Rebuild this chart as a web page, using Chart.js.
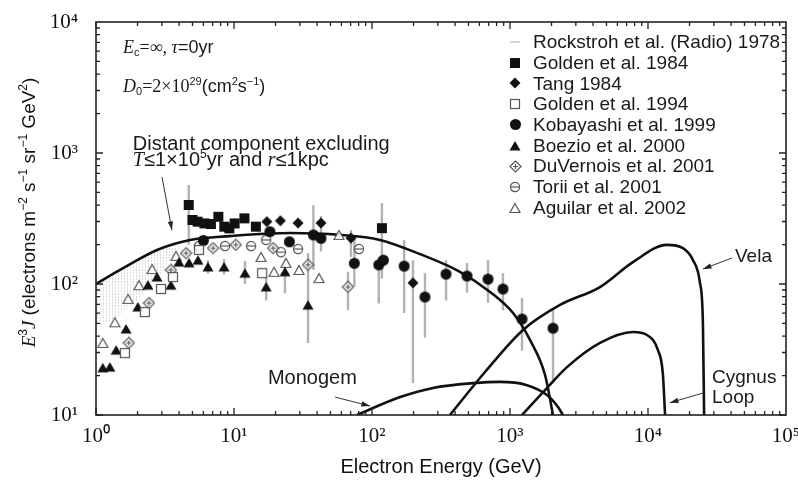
<!DOCTYPE html>
<html>
<head>
<meta charset="utf-8">
<title>Electron spectrum</title>
<script src="https://cdn.jsdelivr.net/npm/chart.js@4.4.1/dist/chart.umd.min.js"></script>
<style>
  body { margin: 0; background: #fff; }
  #wrap { width: 798px; height: 481px; }
</style>
</head>
<body>
<div id="wrap"><canvas id="chart" width="798" height="481"></canvas></div>
<script>
// axis ticks
const xTickValues = [1, 10, 100, 1000, 10000, 100000];
const xTickLabels = ["10⁰", "10¹", "10²", "10³", "10⁴", "10⁵"];
const yTickValues = [10, 100, 1000, 10000];
const yTickLabels = ["10¹", "10²", "10³", "10⁴"];

// model curves: energy (GeV) and E^3 J
const distantE = [1, 1.57, 2.77, 4.8, 9.3, 25.5, 58.6, 114, 223, 434, 717, 1052, 1396, 1795, 2050];
const distantF = [100, 132, 182, 217, 232, 245, 237, 217, 169, 124, 87, 60, 37.4, 20.2, 10];
const velaE = [367, 659, 1243, 2303, 4490, 7780, 13700, 17900, 21200, 23800, 25000, 25500];
const velaF = [10, 21.3, 44.6, 69.2, 94.8, 147, 199, 188, 152, 102, 50, 10];
const cygnusE = [1222, 1794, 2590, 4490, 7780, 9830, 11800, 12800, 13300];
const cygnusF = [10, 15.5, 23.2, 35.5, 43, 40.8, 31.3, 20.9, 10];
const monogemE = [77.8, 160, 277, 540, 847, 1328, 1854, 2228, 2420];
const monogemF = [10, 13.7, 16.1, 17.5, 17.9, 16.9, 14.2, 11.5, 10];

// radio band (Rockstroh 1978)
const radioE = [1, 1.4, 2, 2.9, 4];
const radioHi = [100, 128, 150, 185, 205];
const radioLo = [47, 55, 75, 117, 182];

// measurements, error bars as [low, high]
const golden84E = [4.7, 5.0, 5.45, 6.1, 6.8, 7.7, 8.5, 9.25, 10.1, 11.9, 14.4, 118];
const golden84F = [401, 308, 299, 290, 287, 326, 274, 266, 290, 317, 274, 267];
const golden84Err = [[200, 570], null, null, null, null, null, null, null, null, null, null, [110, 415]];

const tang84E = [17.3, 21.7, 29.1, 42.7, 70.4, 198];
const tang84F = [299, 304, 292, 292, 224, 102];
const tang84Err = [null, null, null, [177, 330], [161, 258], [17.5, 152]];

const golden94E = [1.62, 2.26, 2.96, 3.61, 5.58, 16.0];
const golden94F = [29.7, 61, 91.6, 113, 182, 121];

const kobayashiE = [6, 18.2, 25.2, 37.6, 42.7, 74.5, 112, 121, 171, 242, 344, 488, 693, 889, 1222, 2050];
const kobayashiF = [215, 251, 210, 237, 223, 144, 140, 152, 137, 79.6, 119, 115, 109, 91.6, 54, 46];
const kobayashiErr = [null, null, null, [128, 400], null, [95, 230], [71, 161], null, [60, 217],
  [39, 121], [75, 152], [86, 145], [72, 152], [63, 121], [31, 78], [17.5, 66]];

const boezioE = [1.12, 1.26, 1.40, 1.65, 2.01, 2.38, 2.77, 3.49, 3.99, 4.72, 5.48, 6.48, 8.47, 12.0, 17.1, 23.4, 34.4];
const boezioF = [22.9, 23.2, 31.3, 45.3, 66.7, 98, 113, 98, 147, 145, 152, 135, 135, 121, 95, 124, 69];
const boezioErr = [null, null, null, null, null, null, null, null, null, null, null, [120, 152], [118, 155],
  [100, 150], [75, 114], [85, 152], [35.5, 172]];

const duvernoisE = [1.73, 2.42, 3.49, 4.49, 7.05, 10.3, 19.2, 34.4, 67];
const duvernoisF = [35.5, 71.6, 128, 172, 188, 199, 188, 140, 95];
const duvernoisErr = [null, null, null, null, null, null, null, null, [63, 124]];

const toriiE = [5.57, 8.6, 13.3, 17.1, 21.9, 29.1, 80.5];
const toriiF = [195, 195, 195, 217, 175, 185, 185];

const aguilarE = [1.12, 1.37, 1.71, 2.05, 2.55, 3.8, 15.7, 19.5, 23.8, 29.6, 41.3, 57.7];
const aguilarF = [35.5, 51, 77, 98, 130, 164, 161, 124, 145, 128, 111, 237];
const aguilarErr = [null, null, null, null, null, null, null, null, null, [93, 157], [73, 161], null];

// text placed in data coordinates
const notes = [
  { at: [1.57, 5800], size: 18, parts: [["E", "i"], ["c", "sub"], ["=∞, ", "r"], ["τ", "i"], ["=0yr", "s"]] },
  { at: [1.57, 2920], size: 18, parts: [["D", "i"], ["0", "sub"], ["=2×10", "r"], ["29", "sup"], ["(cm", "s"], ["2", "sup"], ["s", "s"], ["−1", "sup"], [")", "s"]] },
  { at: [1.85, 1054], size: 20, parts: [["Distant component excluding", "s"]] },
  { at: [1.85, 796], size: 20, parts: [["T", "i"], ["≤1×10", "s"], ["5", "sup"], ["yr and ", "s"], ["r", "i"], ["≤1kpc", "s"]] },
  { at: [17.6, 17.3], size: 20, parts: [["Monogem", "s"]] },
  { at: [42700, 147], size: 19, parts: [["Vela", "s"]] },
  { at: [29100, 17.5], size: 19, parts: [["Cygnus", "s"]] },
  { at: [29100, 12.4], size: 19, parts: [["Loop", "s"]] },
];
const arrows = [
  { from: [3.01, 656], to: [3.55, 258] },
  { from: [54, 13.7], to: [96.8, 11.7] },
  { from: [40600, 158], to: [25000, 130] },
  { from: [25000, 14.7], to: [14400, 12.4] },
];
const yTitleParts = [["E", "i"], ["3", "sup"], ["J", "i"], [" (electrons m", "s"], ["−2", "sup"], [" s", "s"], ["−1", "sup"],
  [" sr", "s"], ["−1", "sup"], [" GeV", "s"], ["2", "sup"], [")", "s"]];

// marker glyphs
function glyph(size, draw) {
  const c = document.createElement("canvas");
  c.width = size; c.height = size;
  const g = c.getContext("2d");
  g.fillStyle = "#111";
  g.strokeStyle = "#555";
  g.lineWidth = 1.2;
  draw(g, size / 2);
  return c;
}
const openFill = "rgba(255,255,255,0.85)";
const mSquare = glyph(12, (g) => g.fillRect(1, 1, 10, 10));
const mDiamond = glyph(12, (g, c) => {
  g.beginPath(); g.moveTo(c, 0.5); g.lineTo(11.5, c); g.lineTo(c, 11.5); g.lineTo(0.5, c); g.fill();
});
const mCircle = glyph(13, (g, c) => { g.beginPath(); g.arc(c, c, 5.5, 0, Math.PI * 2); g.fill(); });
const mTriangle = glyph(12, (g) => {
  g.beginPath(); g.moveTo(6, 1); g.lineTo(11.5, 10.5); g.lineTo(0.5, 10.5); g.fill();
});
const mSquareOpen = glyph(12, (g) => { g.fillStyle = openFill; g.fillRect(1.5, 1.5, 9, 9); g.strokeRect(1.5, 1.5, 9, 9); });
const mDiamondCross = glyph(13, (g, c) => {
  g.fillStyle = openFill;
  g.beginPath(); g.moveTo(c, 1); g.lineTo(12, c); g.lineTo(c, 12); g.lineTo(1, c); g.closePath(); g.fill(); g.stroke();
  g.beginPath(); g.moveTo(c, 4); g.lineTo(c, 9); g.moveTo(4, c); g.lineTo(9, c); g.stroke();
});
const mCircleBar = glyph(12, (g, c) => {
  g.fillStyle = openFill;
  g.beginPath(); g.arc(c, c, 4.6, 0, Math.PI * 2); g.fill(); g.stroke();
  g.beginPath(); g.moveTo(1.5, c); g.lineTo(10.5, c); g.stroke();
});
const mTriangleOpen = glyph(12, (g) => {
  g.fillStyle = openFill;
  g.beginPath(); g.moveTo(6, 1.5); g.lineTo(11, 10.5); g.lineTo(1, 10.5); g.closePath(); g.fill(); g.stroke();
});

const stipple = (() => {
  const c = document.createElement("canvas");
  c.width = 3; c.height = 3;
  const g = c.getContext("2d");
  g.fillStyle = "rgba(140,140,140,0.3)";
  g.fillRect(1, 0, 1, 1);
  g.fillRect(1, 2, 1, 1);
  return g.createPattern(c, "repeat");
})();

const pts = (E, F) => E.map((e, i) => ({ x: e, y: F[i] }));

function markers(label, E, F, glyphCanvas, err) {
  return { label, data: pts(E, F), pointStyle: glyphCanvas, pointRadius: 6, err: err || null, order: 0 };
}
function curve(label, E, F) {
  return {
    type: "line", label, data: pts(E, F), borderColor: "#111", borderWidth: 2.6,
    pointRadius: 0, cubicInterpolationMode: "monotone", fill: false, order: 1,
  };
}

const datasets = [
  markers("Golden et al. 1984", golden84E, golden84F, mSquare, golden84Err),
  markers("Tang 1984", tang84E, tang84F, mDiamond, tang84Err),
  markers("Golden et al. 1994", golden94E, golden94F, mSquareOpen),
  markers("Kobayashi et al. 1999", kobayashiE, kobayashiF, mCircle, kobayashiErr),
  markers("Boezio et al. 2000", boezioE, boezioF, mTriangle, boezioErr),
  markers("DuVernois et al. 2001", duvernoisE, duvernoisF, mDiamondCross, duvernoisErr),
  markers("Torii et al. 2001", toriiE, toriiF, mCircleBar),
  markers("Aguilar et al. 2002", aguilarE, aguilarF, mTriangleOpen),
  curve("Distant component", distantE, distantF),
  curve("Vela", velaE, velaF),
  curve("Cygnus Loop", cygnusE, cygnusF),
  curve("Monogem", monogemE, monogemF),
  {
    type: "line", label: "Rockstroh et al. (Radio) 1978", data: pts(radioE, radioHi),
    borderWidth: 0, pointRadius: 0, backgroundColor: stipple, fill: "+1", order: 2,
  },
  { type: "line", label: "radio low", data: pts(radioE, radioLo), borderWidth: 0, pointRadius: 0, fill: false, order: 2 },
];
const legendLabels = ["Rockstroh et al. (Radio) 1978", "Golden et al. 1984", "Tang 1984", "Golden et al. 1994",
  "Kobayashi et al. 1999", "Boezio et al. 2000", "DuVernois et al. 2001", "Torii et al. 2001", "Aguilar et al. 2002"];

// mixed-style text: italic serif, roman serif, sans, super/subscripts
function richText(ctx, parts, x, y, size, draw) {
  let cx = x;
  for (const [t, st] of parts) {
    let dy = 0;
    if (st === "i") ctx.font = `italic ${size}px "Liberation Serif"`;
    else if (st === "r") ctx.font = `${size}px "Liberation Serif"`;
    else if (st === "sup") { ctx.font = `${Math.round(size * 0.62)}px "Liberation Sans"`; dy = -size * 0.4; }
    else if (st === "sub") { ctx.font = `${Math.round(size * 0.62)}px "Liberation Sans"`; dy = size * 0.18; }
    else ctx.font = `${size}px "Liberation Sans"`;
    if (draw) ctx.fillText(t, cx, y + dy);
    cx += ctx.measureText(t).width;
  }
  return cx - x;
}

const errorBars = {
  id: "errorBars",
  beforeDatasetsDraw(chart) {
    const { ctx, scales: { x, y } } = chart;
    ctx.save();
    ctx.strokeStyle = "#b2b2b2";
    ctx.lineWidth = 2.4;
    chart.data.datasets.forEach((ds) => {
      if (!ds.err) return;
      ds.data.forEach((p, i) => {
        const e = ds.err[i];
        if (!e) return;
        const px = x.getPixelForValue(p.x);
        ctx.beginPath();
        ctx.moveTo(px, y.getPixelForValue(e[1]));
        ctx.lineTo(px, y.getPixelForValue(e[0]));
        ctx.stroke();
      });
    });
    ctx.restore();
  },
};

const frameTicks = {
  id: "frameTicks",
  afterDatasetsDraw(chart) {
    const { ctx, chartArea: a, scales: { x, y } } = chart;
    ctx.save();
    ctx.strokeStyle = "#222";
    ctx.lineWidth = 1.6;
    ctx.strokeRect(a.left, a.top, a.right - a.left, a.bottom - a.top);
    ctx.lineWidth = 1.3;
    ctx.beginPath();
    for (let d = 1; d < x.max; d *= 10) {
      for (let k = 1; k < 10; k++) {
        const px = x.getPixelForValue(k * d);
        const len = k === 1 ? 7 : 4;
        ctx.moveTo(px, a.bottom); ctx.lineTo(px, a.bottom - len);
        ctx.moveTo(px, a.top); ctx.lineTo(px, a.top + len);
      }
    }
    for (let d = y.min; d < y.max; d *= 10) {
      for (let k = 1; k < 10; k++) {
        const py = y.getPixelForValue(k * d);
        const len = k === 1 ? 7 : 4;
        ctx.moveTo(a.left, py); ctx.lineTo(a.left + len, py);
        ctx.moveTo(a.right, py); ctx.lineTo(a.right - len, py);
      }
    }
    ctx.stroke();
    ctx.restore();
  },
};

const annotations = {
  id: "annotations",
  afterDraw(chart) {
    const { ctx, chartArea: a, scales: { x, y } } = chart;
    ctx.save();
    ctx.fillStyle = "#1a1a1a";
    ctx.textBaseline = "alphabetic";
    ctx.textAlign = "left";
    notes.forEach((n) => richText(ctx, n.parts, x.getPixelForValue(n.at[0]), y.getPixelForValue(n.at[1]), n.size, true));

    // arrows
    ctx.strokeStyle = "#333";
    ctx.fillStyle = "#222";
    ctx.lineWidth = 1;
    arrows.forEach((ar) => {
      const x0 = x.getPixelForValue(ar.from[0]), y0 = y.getPixelForValue(ar.from[1]);
      const x1 = x.getPixelForValue(ar.to[0]), y1 = y.getPixelForValue(ar.to[1]);
      const ang = Math.atan2(y1 - y0, x1 - x0);
      ctx.beginPath(); ctx.moveTo(x0, y0); ctx.lineTo(x1, y1); ctx.stroke();
      ctx.beginPath();
      ctx.moveTo(x1, y1);
      ctx.lineTo(x1 - 9 * Math.cos(ang - 0.3), y1 - 9 * Math.sin(ang - 0.3));
      ctx.lineTo(x1 - 9 * Math.cos(ang + 0.3), y1 - 9 * Math.sin(ang + 0.3));
      ctx.closePath(); ctx.fill();
    });

    // y axis title, rotated
    ctx.fillStyle = "#111";
    const w = richText(ctx, yTitleParts, 0, 0, 19, false);
    ctx.translate(35, (a.top + a.bottom) / 2 - 6);
    ctx.rotate(-Math.PI / 2);
    richText(ctx, yTitleParts, -w / 2, 0, 19, true);
    ctx.restore();

    // legend inside the plot
    ctx.save();
    ctx.font = '19px "Liberation Sans"';
    ctx.textBaseline = "middle";
    ctx.fillStyle = "#1a1a1a";
    legendLabels.forEach((lab, i) => {
      const ds = chart.data.datasets.find((d) => d.label === lab);
      const cy = a.top + 20 + i * 20.7;
      const mx = a.right - 271;
      if (ds.pointStyle instanceof HTMLCanvasElement) {
        const g = ds.pointStyle;
        ctx.drawImage(g, Math.round(mx - g.width / 2), Math.round(cy - g.height / 2));
      } else {
        ctx.strokeStyle = "#c8c8c8";
        ctx.lineWidth = 1.5;
        ctx.beginPath(); ctx.moveTo(mx - 5, cy); ctx.lineTo(mx + 5, cy); ctx.stroke();
      }
      ctx.fillText(lab, a.right - 253, cy + 1);
    });
    ctx.restore();
  },
};

new Chart(document.getElementById("chart"), {
  type: "scatter",
  data: { datasets },
  options: {
    responsive: false,
    animation: false,
    events: [],
    layout: { padding: { top: 22, right: 12, left: 0, bottom: 0 } },
    plugins: { legend: { display: false }, tooltip: { enabled: false } },
    scales: {
      x: {
        type: "logarithmic", min: 1, max: 100000,
        grid: { display: false, drawTicks: false }, border: { display: false },
        ticks: {
          autoSkip: false, maxRotation: 0, padding: 9, color: "#111",
          font: { family: '"Liberation Serif", serif', size: 21 },
          callback: (v, i) => xTickLabels[i],
        },
        afterBuildTicks: (s) => { s.ticks = xTickValues.map((v) => ({ value: v })); },
        afterFit: (s) => { s.height = 66; s.paddingLeft = 0; s.paddingRight = 0; },
        title: {
          display: true, text: "Electron Energy (GeV)", color: "#111",
          font: { family: '"Liberation Sans", sans-serif', size: 20 }, padding: { top: 0, bottom: 2 },
        },
      },
      y: {
        type: "logarithmic", min: 10, max: 10000,
        grid: { display: false, drawTicks: false }, border: { display: false },
        ticks: {
          autoSkip: false, padding: 18, color: "#111",
          font: { family: '"Liberation Serif", serif', size: 21 },
          callback: (v, i) => yTickLabels[i],
        },
        afterBuildTicks: (s) => { s.ticks = yTickValues.map((v) => ({ value: v })); },
        afterFit: (s) => { s.width = 96; s.paddingTop = 0; s.paddingBottom = 0; },
      },
    },
  },
  plugins: [errorBars, frameTicks, annotations],
});
</script>
</body>
</html>
